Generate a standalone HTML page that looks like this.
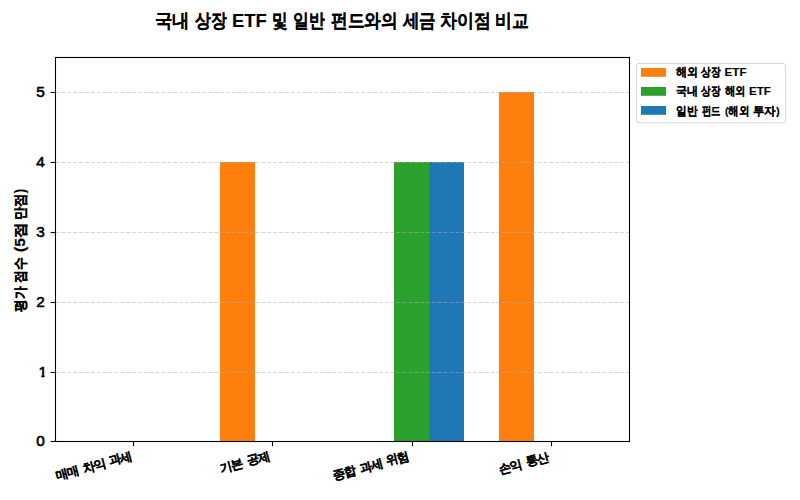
<!DOCTYPE html>
<html><head><meta charset="utf-8">
<style>
html,body{margin:0;padding:0;background:#fff;}
body{width:800px;height:500px;position:relative;overflow:hidden;font-family:"Liberation Sans",sans-serif;color:#000;}
.t{position:absolute;white-space:nowrap;line-height:1;font-weight:bold;transform-origin:0 0;-webkit-text-stroke:0px #000;}
.xl{transform:rotate(-15deg);transform-origin:100% 0;-webkit-text-stroke:0.1px #000;}
.yt{left:0;width:44.8px;text-align:right;font-size:15.3px;font-weight:normal;-webkit-text-stroke:0.6px #000;}
svg{position:absolute;left:0;top:0;}
</style></head><body>
<svg width="800" height="500" viewBox="0 0 800 500">
  <rect x="220" y="162" width="35" height="279.5" fill="#ff7f0e"/>
  <rect x="394" y="162" width="35" height="279.5" fill="#2ca02c"/>
  <rect x="429" y="162" width="35" height="279.5" fill="#1f77b4"/>
  <rect x="499" y="92" width="35" height="349.5" fill="#ff7f0e"/>
  <g stroke="#b0b0b0" stroke-opacity="0.5" stroke-width="1.1" stroke-dasharray="4.1 1.78" fill="none">
    <line x1="55.5" y1="372.5" x2="629.5" y2="372.5"/>
    <line x1="55.5" y1="302.5" x2="629.5" y2="302.5"/>
    <line x1="55.5" y1="232.5" x2="629.5" y2="232.5"/>
    <line x1="55.5" y1="162.5" x2="629.5" y2="162.5"/>
    <line x1="55.5" y1="92.5" x2="629.5" y2="92.5"/>
  </g>
  <rect x="55.5" y="57.5" width="574" height="384" fill="none" stroke="#000" stroke-width="1.1"/>
  <g stroke="#000" stroke-width="1.1">
    <line x1="50.6" y1="441.5" x2="55.5" y2="441.5"/>
    <line x1="50.6" y1="372.5" x2="55.5" y2="372.5"/>
    <line x1="50.6" y1="302.5" x2="55.5" y2="302.5"/>
    <line x1="50.6" y1="232.5" x2="55.5" y2="232.5"/>
    <line x1="50.6" y1="162.5" x2="55.5" y2="162.5"/>
    <line x1="50.6" y1="92.5" x2="55.5" y2="92.5"/>
    <line x1="133.5" y1="441.5" x2="133.5" y2="446.3"/>
    <line x1="272.5" y1="441.5" x2="272.5" y2="446.3"/>
    <line x1="412.5" y1="441.5" x2="412.5" y2="446.3"/>
    <line x1="551.5" y1="441.5" x2="551.5" y2="446.3"/>
  </g>
  <rect x="636.5" y="63.5" width="149" height="59.3" rx="2.5" ry="2.5" fill="#fff" stroke="#d6d6d6" stroke-width="1"/>
  <rect x="641" y="68" width="25" height="8.8" fill="#ff7f0e"/>
  <rect x="641" y="87" width="25" height="8.8" fill="#2ca02c"/>
  <rect x="641" y="106" width="25" height="8.8" fill="#1f77b4"/>
</svg>
<div class="t" style="left:155.39px;top:12.30px;font-size:18.8px;transform:scaleX(0.9086);-webkit-text-stroke:0.12px #000;">국내</div>
<div class="t" style="left:195.00px;top:12.30px;font-size:18.8px;transform:scaleX(0.8316);-webkit-text-stroke:0.12px #000;">상장</div>
<div class="t" style="left:232.42px;top:12.30px;font-size:18.8px;transform:scaleX(0.9824);-webkit-text-stroke:0.12px #000;">ETF</div>
<div class="t" style="left:272.28px;top:12.30px;font-size:18.8px;transform:scaleX(0.8176);-webkit-text-stroke:0.12px #000;">및</div>
<div class="t" style="left:292.57px;top:12.30px;font-size:18.8px;transform:scaleX(0.8297);-webkit-text-stroke:0.12px #000;">일반</div>
<div class="t" style="left:330.72px;top:12.30px;font-size:18.8px;transform:scaleX(0.8795);-webkit-text-stroke:0.12px #000;">펀드와의</div>
<div class="t" style="left:402.90px;top:12.30px;font-size:18.8px;transform:scaleX(0.8676);-webkit-text-stroke:0.12px #000;">세금</div>
<div class="t" style="left:439.71px;top:12.30px;font-size:18.8px;transform:scaleX(0.8917);-webkit-text-stroke:0.12px #000;">차이점</div>
<div class="t" style="left:494.71px;top:12.30px;font-size:18.8px;transform:scaleX(0.8861);-webkit-text-stroke:0.12px #000;">비교</div>
<div class="t" style="left:676.00px;top:66.40px;font-size:11.6px;transform:scaleX(0.9130);-webkit-text-stroke:0.15px #000;">해외</div>
<div class="t" style="left:701.20px;top:66.40px;font-size:11.6px;transform:scaleX(0.8000);-webkit-text-stroke:0.15px #000;">상장</div>
<div class="t" style="left:724.60px;top:66.40px;font-size:11.6px;transform:scaleX(1.0000);-webkit-text-stroke:0.15px #000;">ETF</div>
<div class="t" style="left:676.00px;top:85.00px;font-size:11.6px;transform:scaleX(0.9130);-webkit-text-stroke:0.15px #000;">국내</div>
<div class="t" style="left:701.20px;top:85.00px;font-size:11.6px;transform:scaleX(0.8000);-webkit-text-stroke:0.15px #000;">상장</div>
<div class="t" style="left:725.40px;top:85.00px;font-size:11.6px;transform:scaleX(0.8609);-webkit-text-stroke:0.15px #000;">해외</div>
<div class="t" style="left:749.00px;top:85.00px;font-size:11.6px;transform:scaleX(1.0000);-webkit-text-stroke:0.15px #000;">ETF</div>
<div class="t" style="left:675.71px;top:104.80px;font-size:11.6px;transform:scaleX(0.8870);-webkit-text-stroke:0.15px #000;">일반</div>
<div class="t" style="left:701.80px;top:104.80px;font-size:11.6px;transform:scaleX(0.7750);-webkit-text-stroke:0.15px #000;">펀드</div>
<div class="t" style="left:724.52px;top:104.80px;font-size:11.6px;transform:scaleX(0.8769);-webkit-text-stroke:0.15px #000;">(해외</div>
<div class="t" style="left:753.00px;top:104.80px;font-size:11.6px;transform:scaleX(0.9556);-webkit-text-stroke:0.15px #000;">투자)</div>
<div class="t yt" style="top:432.50px;transform:scaleX(1.0);transform-origin:44.8px 0;">0</div>
<div class="t yt" style="top:363.50px;transform:translateX(2.3px);clip-path:polygon(0 0,100% 0,100% 11.5px,42.2px 11.5px,42.2px 100%,39.1px 100%,39.1px 11.5px,0 11.5px);">1</div>
<div class="t yt" style="top:293.50px;transform:scaleX(1.0);transform-origin:44.8px 0;">2</div>
<div class="t yt" style="top:223.50px;transform:scaleX(1.0);transform-origin:44.8px 0;">3</div>
<div class="t yt" style="top:153.50px;transform:scaleX(1.0);transform-origin:44.8px 0;">4</div>
<div class="t yt" style="top:83.50px;transform:scaleX(1.0);transform-origin:44.8px 0;">5</div>
<div class="t" style="left:13.20px;top:312.00px;font-size:14px;-webkit-text-stroke:0.2px #000;transform:rotate(-90deg) scaleX(0.9107);transform-origin:0 0;">평가</div>
<div class="t" style="left:13.20px;top:283.02px;font-size:14px;-webkit-text-stroke:0.2px #000;transform:rotate(-90deg) scaleX(0.9185);transform-origin:0 0;">점수</div>
<div class="t" style="left:13.20px;top:251.91px;font-size:14px;-webkit-text-stroke:0.2px #000;transform:rotate(-90deg) scaleX(1.1087);transform-origin:0 0;">(5점</div>
<div class="t" style="left:13.20px;top:220.15px;font-size:14px;-webkit-text-stroke:0.2px #000;transform:rotate(-90deg) scaleX(0.9516);transform-origin:0 0;">만점)</div>
<div class="t xl" style="right:670.85px;top:450.20px;font-size:12.4px;letter-spacing:-0.8px;word-spacing:2.5px;">매매 차익 과세</div>
<div class="t xl" style="right:532.90px;top:450.20px;font-size:12.4px;letter-spacing:-0.8px;word-spacing:2.5px;">기본 공제</div>
<div class="t xl" style="right:393.20px;top:450.20px;font-size:12.4px;letter-spacing:-0.8px;word-spacing:2.5px;">종합 과세 위험</div>
<div class="t xl" style="right:254.10px;top:450.50px;font-size:12.4px;letter-spacing:-0.8px;word-spacing:2.5px;">손익 통산</div>
</body></html>
